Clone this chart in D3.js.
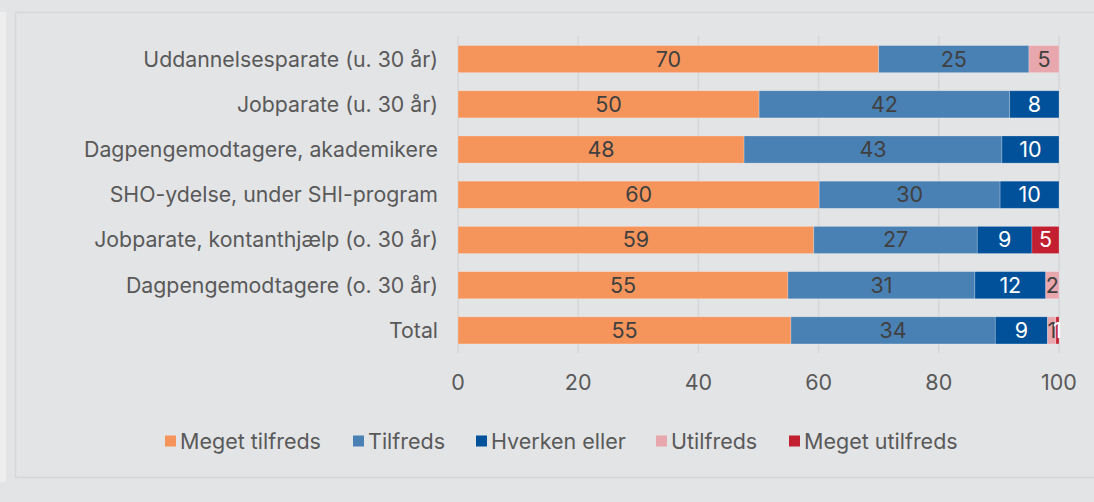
<!DOCTYPE html>
<html>
<head>
<meta charset="utf-8">
<script src="https://cdn.jsdelivr.net/npm/d3@7"></script>
<style>
  body { margin: 0; background: #e3e4e6; }
  svg { display: block; font-family: Inter, "Noto Sans", sans-serif; }
</style>
</head>
<body>
<div id="chart"></div>
<script>
const categories = [
  'Uddannelsesparate (u. 30 år)',
  'Jobparate (u. 30 år)',
  'Dagpengemodtagere, akademikere',
  'SHO-ydelse, under SHI-program',
  'Jobparate, kontanthjælp (o. 30 år)',
  'Dagpengemodtagere (o. 30 år)',
  'Total'
]
const seriesNames = ['Meget tilfreds', 'Tilfreds', 'Hverken eller', 'Utilfreds', 'Meget utilfreds']
const megetTilfreds = [70.0, 50.1, 47.6, 60.1, 59.2, 54.9, 55.4]
const tilfreds = [25.0, 41.7, 42.9, 30.1, 27.2, 31.1, 34.0]
const hverkenEller = [0, 8.2, 9.5, 9.8, 9.1, 11.8, 8.7]
const utilfreds = [5.0, 0, 0, 0, 0, 2.2, 1.4]
const megetUtilfreds = [0, 0, 0, 0, 4.5, 0, 0.5]
const xTicks = [0, 20, 40, 60, 80, 100]

const colors = ['#f6955b', '#4981b5', '#00519a', '#e8a6ad', '#c21f30']
const labelColors = ['#404040', '#404040', '#ffffff', '#404040', '#ffffff']

const width = 1094
const height = 502
const fs = 21.5

const rows = categories.map((c, i) => ({
  cat: c,
  'Meget tilfreds': megetTilfreds[i],
  'Tilfreds': tilfreds[i],
  'Hverken eller': hverkenEller[i],
  'Utilfreds': utilfreds[i],
  'Meget utilfreds': megetUtilfreds[i]
}))

const stack = d3.stack().keys(seriesNames)(rows)

const svg = d3.select('#chart').append('svg').attr('width', width).attr('height', height)

// frame
svg.append('rect').attr('x', 0).attr('y', 0).attr('width', width).attr('height', height).attr('fill', '#e3e4e6')
svg.append('rect').attr('x', 0).attr('y', 12).attr('width', 6).attr('height', 470).attr('fill', '#eeeeef')
svg.append('rect').attr('x', 15.5).attr('y', 12.5).attr('width', width).attr('height', 465)
  .attr('fill', '#e3e4e6').attr('stroke', '#d6d7d9').attr('stroke-width', 1.5)

const x = d3.scaleLinear().domain([0, 100]).range([458, 1059])
const y = d3.scaleBand().domain(categories).range([36.5, 353]).paddingInner(0.4).paddingOuter(0.2)

// grid
svg.append('g').selectAll('line').data(xTicks).join('line')
  .attr('x1', d => x(d)).attr('x2', d => x(d))
  .attr('y1', 36).attr('y2', 353)
  .attr('stroke', '#d5d6d8').attr('stroke-width', 1.5)

// x axis labels
svg.append('g').selectAll('text').data(xTicks).join('text')
  .attr('x', d => x(d)).attr('y', 382).attr('dy', '0.35em')
  .attr('text-anchor', 'middle').attr('font-size', fs).attr('fill', '#595959')
  .text(d => d)

// category labels
svg.append('g').selectAll('text').data(categories).join('text')
  .attr('x', 438).attr('y', d => y(d) + y.bandwidth() / 2).attr('dy', '0.35em')
  .attr('text-anchor', 'end').attr('font-size', 21.3).attr('fill', '#595959')
  .text(d => d)

// bars
const layer = svg.append('g').selectAll('g').data(stack).join('g')
  .attr('fill', (d, i) => colors[i])

layer.selectAll('rect').data(d => d.filter(p => p[1] - p[0] > 0)).join('rect')
  .attr('x', d => x(d[0]))
  .attr('width', d => x(d[1]) - x(d[0]))
  .attr('y', d => y(d.data.cat))
  .attr('height', y.bandwidth())
  .attr('stroke', 'rgba(255,255,255,0.3)').attr('stroke-width', 0.75)

// value labels
svg.append('g').selectAll('g').data(stack).join('g')
  .attr('fill', (d, i) => labelColors[i])
  .selectAll('text').data(d => d.filter(p => p[1] - p[0] > 0)).join('text')
  .attr('x', d => (x(d[0]) + x(d[1])) / 2)
  .attr('y', d => y(d.data.cat) + y.bandwidth() / 2).attr('dy', '0.35em')
  .attr('text-anchor', 'middle').attr('font-size', fs)
  .text(d => Math.round(d[1] - d[0]))

// legend
const legendX = [165, 353, 476, 656, 789]
const legend = svg.append('g').selectAll('g').data(seriesNames).join('g')
  .attr('transform', (d, i) => `translate(${legendX[i]},441)`)
legend.append('rect').attr('x', 0).attr('y', -5.5).attr('width', 11).attr('height', 11)
  .attr('fill', (d, i) => colors[i])
legend.append('text').attr('x', 15).attr('dy', '0.35em')
  .attr('font-size', fs).attr('fill', '#595959').text(d => d)
</script>
</body>
</html>
